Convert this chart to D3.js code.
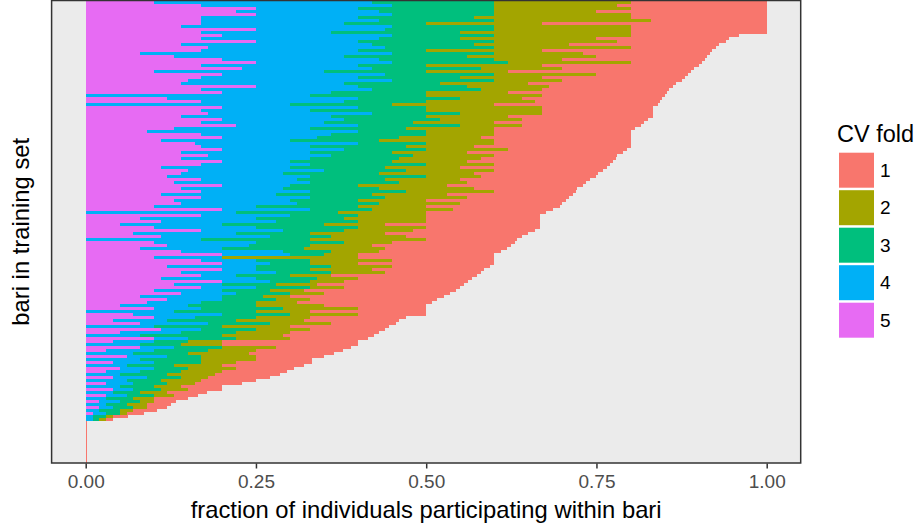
<!DOCTYPE html>
<html>
<head>
<meta charset="utf-8">
<script src="https://cdn.jsdelivr.net/npm/d3@7"></script>
<style>
  body { margin: 0; background: #ffffff; }
  svg { display: block; font-family: "Liberation Sans", Arial, sans-serif; }
</style>
</head>
<body>
<svg id="chart" width="918" height="529"></svg>
<script>
// CV folds (legend order) and their hue colours
const foldLabels = ["1", "2", "3", "4", "5"];
const foldColors = ["#F8766D", "#A3A500", "#00BF7D", "#00B0F6", "#E76BF3"];
const xTicks = [0, 0.25, 0.5, 0.75, 1];

// Fraction of individuals of each bari that fall in each CV fold.
// One entry per bari, baris ordered by total participation (top = highest).
const fold5 = [
  .10,.17,.25,.22,.25,.17,.17,.17,.14,.25,
  .17,.20,.17,.25,.14,.18,.17,.08,.13,.20,
  .25,.17,.23,.10,.20,.17,.15,.14,.25,.17,
  .20,0,.12,.17,0,.20,.17,.18,.14,.20,
  .17,.22,.13,.09,.17,.20,.11,.16,.17,.20,
  .14,.18,.14,.20,.17,.11,.15,.14,.12,.17,
  .13,.20,.14,.17,.11,.17,.13,.14,.10,.20,
  0,.17,.08,.11,.05,.10,.17,.07,.11,0,
  .10,.12,.08,.14,.20,.10,.17,.20,.12,.20,
  .14,.17,.11,.20,.13,.17,.10,.14,.08,.12,
  .09,.05,.10,0,.07,.10,.04,.08,0,.11,
  .05,0,.10,.04,0,.08,.03,0,.06,0,
  .04,0,.05,.03,0,.04,0,.03,0,.04,
  0,.03,0,.02,0,.02,0,.01,0,0,
  0,0,0,0,0,0,0,0,0,0,0,0,0,0
];
const fold4 = [
  .32,.28,.15,.21,.20,.23,.26,.21,.31,.19,
  .19,.25,.26,.15,.28,.26,.23,.37,.25,.23,
  .20,.23,.19,.25,.24,.23,.30,.24,.15,.25,
  .16,.33,.28,.21,.30,.20,.16,.24,.22,.18,
  .18,.18,.20,.31,.19,.14,.19,.24,.16,.18,
  .19,.18,.19,.10,.16,.19,.20,.15,.21,.14,
  .20,.10,.15,.16,.17,.16,.17,.17,.15,.13,
  .22,.13,.17,.17,.15,.15,.12,.15,.16,.17,
  .15,.12,.12,.15,.10,.10,.08,.07,.13,.05,
  .14,.05,.14,.07,.07,.08,.10,.08,.12,.08,
  .08,.10,.07,.13,.13,.06,.08,.10,.10,.06,
  .09,.08,.05,.06,.08,.05,.07,.07,.06,.08,
  .06,.06,.05,.05,.05,.05,.06,.04,.05,.03,
  .04,.03,.03,.03,.03,.02,.02,.02,.01,.01,
  0,0,0,0,0,0,0,0,0,0,0,0,0,0
];
const fold3 = [
  .18,.15,.20,.17,.15,.17,.17,.12,.15,.16,
  .19,.15,.12,.20,.15,.16,.10,.15,.18,.17,
  .17,.10,.16,.15,.16,.15,.15,.14,.16,.16,
  .14,.17,.15,.12,.15,.10,.17,.13,.14,.14,
  .13,.15,.14,.10,.14,.12,.13,.10,.14,.12,
  .12,.12,.13,.15,.17,.14,.12,.14,.17,.13,
  .13,.10,.14,.14,.14,.11,.10,.12,.15,.09,
  .15,.10,.13,.12,.15,.15,.09,.11,.09,.16,
  .13,.09,.12,.07,.05,0,.08,.06,.11,.08,
  .08,.08,.09,.06,.08,.08,.07,.08,.06,.08,
  .08,.10,.12,.12,.10,.09,.10,.09,.10,.08,
  .08,.12,.07,.05,.06,.07,.08,.08,.05,.09,
  .07,.07,.05,.06,.07,.05,.05,.05,.05,.04,
  .04,.04,.04,.03,.03,.03,.03,.02,.02,.01,
  0,0,0,0,0,0,0,0,0,0,0,0,0,0
];
const fold2 = [
  .20,.18,.20,.15,.20,.23,.23,.17,.20,.20,
  .25,.20,.20,.18,.14,.20,.17,.13,.19,.10,
  .18,.17,.12,.12,.15,.12,.10,.13,.12,.09,
  .12,.17,.09,.16,.15,.17,.17,.12,.12,.12,
  .12,.09,.13,.10,.10,.12,.17,.10,.10,.12,
  .11,.12,.12,.11,.10,.11,.13,.14,.08,.11,
  .10,.13,.14,.13,.11,.12,.10,.12,.10,.12,
  .13,.10,.12,.10,.09,.10,.10,.11,.11,.17,
  .07,.09,.12,.07,.05,.20,.12,.07,.09,.09,
  .08,.06,.06,.05,.06,.05,.05,.05,.04,.05,
  .06,.10,.11,.08,.10,.08,.10,.09,.10,.08,
  .08,.09,.08,.05,.06,.08,.07,.09,.08,.08,
  .05,.07,.07,.06,.07,.04,.06,.04,.04,.04,
  .04,.03,.03,.02,.03,.02,.02,.01,.01,.01,
  0,0,0,0,0,0,0,0,0,0,0,0,0,0
];
const fold1 = [
  .20,.22,.20,.25,.20,.20,.17,.33,.20,.20,
  .20,.16,.195,.16,.22,.125,.25,.187,.163,.21,
  .105,.23,.193,.269,.135,.21,.175,.217,.182,.187,
  .233,.18,.206,.183,.24,.163,.163,.163,.213,.185,
  .22,.175,.206,.20,.20,.22,.20,.20,.23,.175,
  .229,.18,.198,.214,.17,.215,.16,.183,.17,.19,
  .175,.20,.152,.12,.185,.15,.205,.15,.196,.146,
  .176,.167,.167,.167,.227,.167,.18,.21,.17,.133,
  .18,.205,.178,.18,.20,.20,.15,.20,.143,.165,
  .14,.214,.167,.182,.216,.17,.224,.185,.226,.186,
  .198,.15,.10,.17,.10,.14,.14,.095,.145,.11,
  .13,.134,.115,.20,.20,.11,.128,.125,.10,.083,
  .113,.12,.086,.095,.096,.09,.08,.07,.06,.05,
  .058,.035,.05,.033,.035,.03,.035,.025,.022,.01,
  .0015,.0015,.0015,.0015,.0015,.0015,.0015,.0015,.0015,.0015,.0015,.0015,.0015,.0015
];

const foldValues = { "1": fold1, "2": fold2, "3": fold3, "4": fold4, "5": fold5 };
const colorOf = d3.scaleOrdinal().domain(foldLabels).range(foldColors);

// one record per bari
const rows = fold1.map((_, i) => {
  const r = { bari: i };
  foldLabels.forEach(k => { r[k] = foldValues[k][i]; });
  return r;
});

// fold 5 sits at the left end of each bar, fold 1 at the right end
const stackKeys = ["5", "4", "3", "2", "1"];
const series = d3.stack().keys(stackKeys)(rows);

const svg = d3.select("#chart");
const panel = { left: 51.6, right: 800.7, top: 0.5, bottom: 463 };

const x = d3.scaleLinear().domain([0, 1]).range([85.7, 766.7]);
const y = d3.scaleBand().domain(rows.map(d => d.bari)).range([1, 463]).padding(0);

// panel background
svg.append("rect")
  .attr("x", panel.left).attr("y", panel.top)
  .attr("width", panel.right - panel.left).attr("height", panel.bottom - panel.top)
  .attr("fill", "#EBEBEB");

// stacked bars
const bars = svg.append("g").attr("shape-rendering", "crispEdges");
bars.selectAll("g")
  .data(series)
  .join("g")
  .attr("fill", s => colorOf(s.key))
  .selectAll("rect")
  .data(s => s)
  .join("rect")
  .attr("x", d => x(d[0]))
  .attr("y", d => y(d.data.bari))
  .attr("width", d => Math.max(0, x(d[1]) - x(d[0])))
  .attr("height", y.bandwidth());

// panel border
svg.append("rect")
  .attr("x", panel.left).attr("y", panel.top)
  .attr("width", panel.right - panel.left).attr("height", panel.bottom - panel.top)
  .attr("fill", "none").attr("stroke", "#333333").attr("stroke-width", 1.5);

// x axis
const xAxis = d3.axisBottom(x).tickValues(xTicks).tickFormat(d3.format(".2f")).tickSize(5).tickPadding(6);
const gx = svg.append("g").attr("transform", `translate(0,${panel.bottom + 0.5})`).call(xAxis);
gx.select(".domain").remove();
gx.selectAll(".tick line").attr("stroke", "#333333").attr("stroke-width", 1.5);
gx.selectAll(".tick text")
  .attr("fill", "#4D4D4D")
  .attr("font-size", "19px")
  .attr("font-family", "'Liberation Sans', Arial, sans-serif");

// axis titles
svg.append("text")
  .attr("x", (panel.left + panel.right) / 2).attr("y", 518)
  .attr("text-anchor", "middle").attr("font-size", "23.8px").attr("fill", "#000")
  .text("fraction of individuals participating within bari");

svg.append("text")
  .attr("transform", `translate(29,${(panel.top + panel.bottom) / 2}) rotate(-90)`)
  .attr("text-anchor", "middle").attr("font-size", "23.8px").attr("fill", "#000")
  .text("bari in training set");

// legend
const legend = svg.append("g").attr("transform", "translate(838,0)");
legend.append("text")
  .attr("x", -1).attr("y", 142)
  .attr("font-size", "23.5px").attr("fill", "#000")
  .text("CV fold");

const keyItems = legend.selectAll("g.key")
  .data(foldLabels)
  .join("g")
  .attr("class", "key")
  .attr("transform", (d, i) => `translate(0,${152.7 + i * 37.5})`);
keyItems.append("rect")
  .attr("x", 1).attr("y", 0).attr("width", 35).attr("height", 35)
  .attr("fill", d => colorOf(d));
keyItems.append("text")
  .attr("x", 42).attr("y", 24.3)
  .attr("font-size", "19px").attr("fill", "#000")
  .text(d => d);
</script>
</body>
</html>
